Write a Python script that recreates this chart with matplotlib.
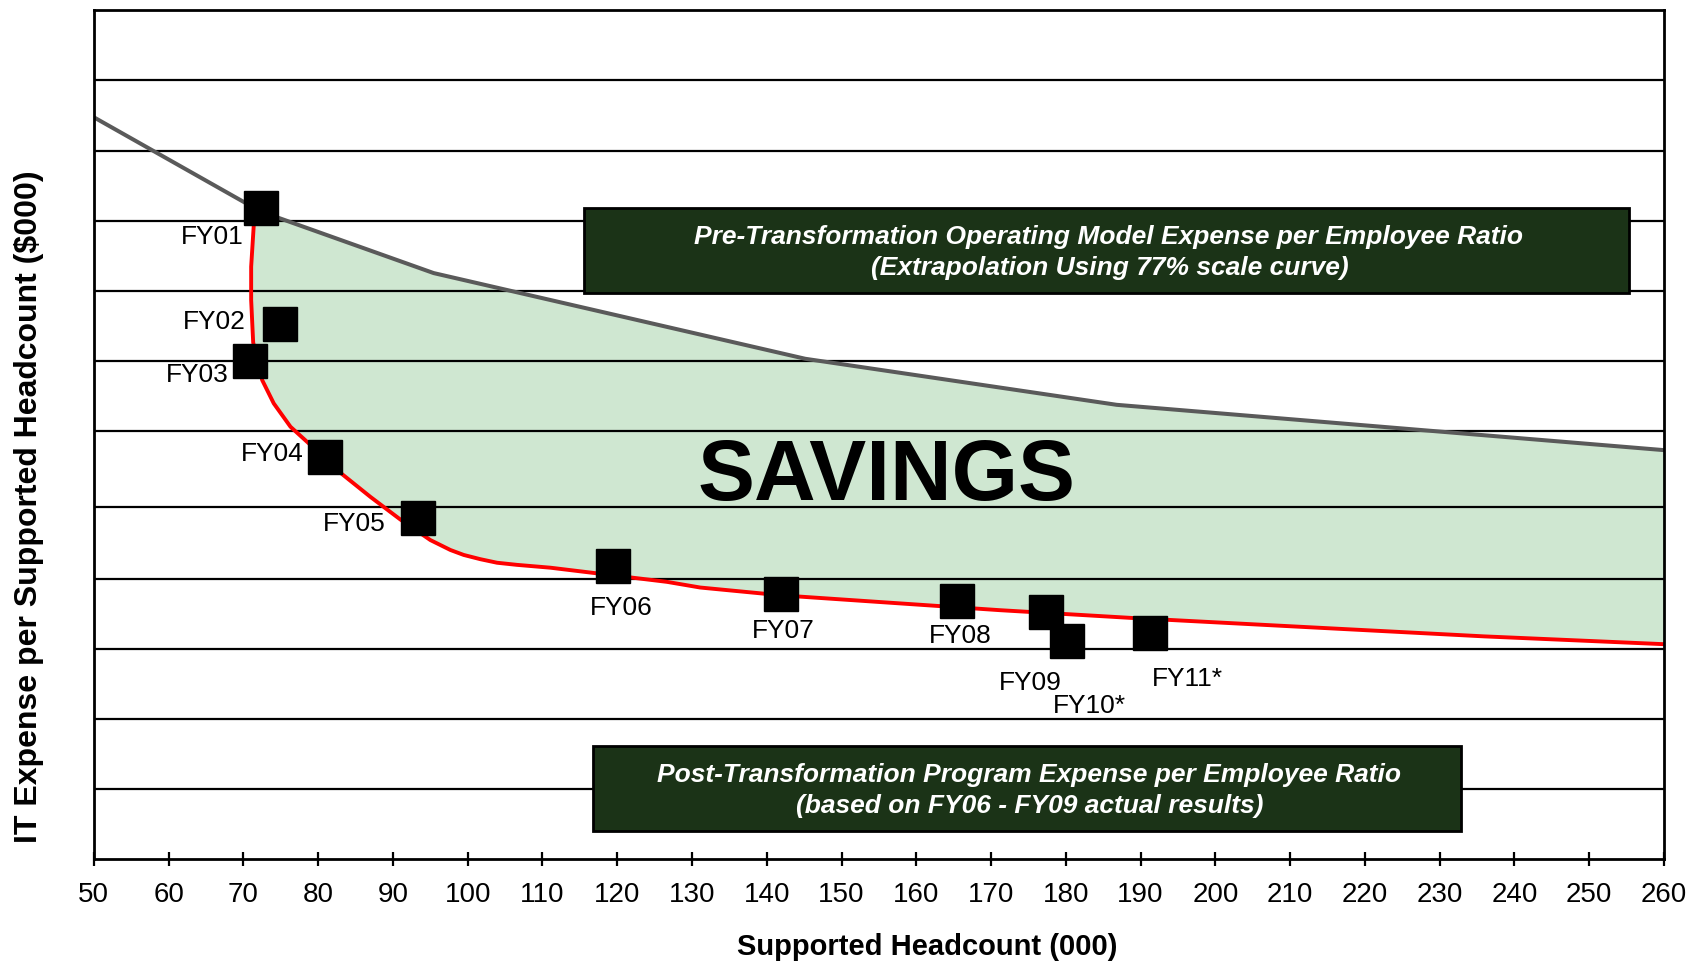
import numpy as np
import matplotlib
matplotlib.use("Agg")
import matplotlib.pyplot as plt
from matplotlib.patches import Rectangle

plt.rcParams['font.family'] = ['Liberation Sans', 'DejaVu Sans']

# -----------------------------
# DATA (x = headcount in 000, y = grid units, no scale shown)
# -----------------------------
years = ["FY01", "FY02", "FY03", "FY04", "FY05", "FY06",
         "FY07", "FY08", "FY09", "FY10*", "FY11*"]
head_x = [72.3, 74.85, 70.95, 80.9, 93.4, 119.4, 141.9, 165.5, 177.3, 180.2, 191.2]
cost_y = [9.20, 7.56, 7.04, 5.68, 4.82, 4.14, 3.75, 3.65, 3.49, 3.09, 3.20]

# label offsets (points) relative to each marker
label_dx = [-35, -47, -38, -38, -46, 6, 2, 2, -11, 16, 27]
label_dy = [-21, 1.5, -10, 2, -4, -30, -27, -25, -51, -47, -33]

# pre-transformation scale curve (grey)
pre_x = [50, 72.3, 95.45, 145.15, 186.8, 260]
pre_y = [10.48, 9.15, 8.28, 7.07, 6.42, 5.78]

# post-transformation curve (red)
post_x = [72.2, 71.39, 71.04, 71.04, 71.31, 72.51, 74.06, 76.3, 78.7, 82.98,
          86.99, 91.0, 95.01, 97.69, 99.47, 101.7, 103.93, 106.6, 111.06,
          117.3, 126.66, 131.1, 141.9, 171.2, 188.9, 212.4, 236.0, 260]
post_y = [9.15, 8.96, 8.37, 7.90, 7.30, 6.77, 6.44, 6.11, 5.88, 5.46,
          5.12, 4.80, 4.51, 4.37, 4.30, 4.24, 4.19, 4.16, 4.12,
          4.04, 3.92, 3.84, 3.73, 3.52, 3.41, 3.28, 3.15, 3.04]

x_ticks = list(range(50, 261, 10))
# horizontal rules (slightly uneven in the original)
grid_y = [0.99, 1.98, 2.97, 3.96, 4.97, 6.05, 7.04, 8.03, 9.02, 10.0, 11.0]

BOX_COLOR = "#1b3317"
FILL_COLOR = "#cfe7d1"

# -----------------------------
# FIGURE
# -----------------------------
fig = plt.figure(figsize=(16.91, 9.63), dpi=100)
ax = fig.add_axes([0.0555, 0.1075, 0.9285, 0.8825])
ax.set_xlim(50, 260)
ax.set_ylim(0, 12)

# savings area between the two curves
gx = np.array(pre_x)
gy = np.array(pre_y)
keep = gx > 72.3
poly_x = list(post_x) + list(gx[keep][::-1])
poly_y = list(post_y) + list(gy[keep][::-1])
ax.fill(poly_x, poly_y, color=FILL_COLOR, zorder=1, lw=0)

# horizontal grid lines
ax.set_yticks(grid_y)
ax.yaxis.grid(True, color="black", linewidth=1.6, zorder=2)
ax.set_axisbelow(False)
ax.tick_params(axis="y", left=False, labelleft=False)

ax.plot(pre_x, pre_y, color="#5a5a5a", linewidth=2.9, zorder=4, solid_joinstyle="round")
ax.plot(post_x, post_y, color="red", linewidth=2.8, zorder=4, solid_joinstyle="round")

ax.plot(head_x, cost_y, linestyle="none", marker="s", markersize=24,
        color="black", zorder=6)

for name, x, y, dx, dy in zip(years, head_x, cost_y, label_dx, label_dy):
    ax.annotate(name, (x, y), xytext=(dx, dy), textcoords="offset points",
                ha="center", va="center", fontsize=19, zorder=7)

ax.text(0.505, 0.449, "SAVINGS", transform=ax.transAxes, ha="center", va="center",
        fontsize=61.5, fontweight="bold", zorder=7)

# annotation boxes
box_font = dict(fontweight="bold", style="italic", color="white", fontsize=19)

ax.add_patch(Rectangle((0.312, 0.666), 0.666, 0.100, transform=ax.transAxes,
                       facecolor=BOX_COLOR, edgecolor="black", lw=2, zorder=8))
ax.text(0.646, 0.7325, "Pre-Transformation Operating Model Expense per Employee Ratio",
        transform=ax.transAxes, ha="center", va="center", zorder=9, **box_font)
ax.text(0.647, 0.6955, "(Extrapolation Using 77% scale curve)",
        transform=ax.transAxes, ha="center", va="center", zorder=9, **box_font)

ax.add_patch(Rectangle((0.318, 0.033), 0.553, 0.100, transform=ax.transAxes,
                       facecolor=BOX_COLOR, edgecolor="black", lw=2, zorder=8))
ax.text(0.5955, 0.0995, "Post-Transformation Program Expense per Employee Ratio",
        transform=ax.transAxes, ha="center", va="center", zorder=9, **box_font)
ax.text(0.596, 0.0625, "(based on FY06 - FY09 actual results)",
        transform=ax.transAxes, ha="center", va="center", zorder=9, **box_font)

# axes styling
ax.set_xticks(x_ticks)
ax.tick_params(axis="x", direction="inout", length=10, width=1.6,
               labelsize=20, pad=11.5)
for sp in ax.spines.values():
    sp.set_linewidth(2)
    sp.set_color("black")
    sp.set_zorder(10)

ax.set_xlabel("Supported Headcount (000)", fontsize=21, fontweight="bold")
ax.xaxis.set_label_coords(0.531, -0.103)
ax.xaxis.label.set_va("center")
ax.set_ylabel("IT Expense per Supported Headcount ($000)", fontsize=23, fontweight="bold")
ax.yaxis.set_label_coords(-0.041, 0.415)
ax.yaxis.label.set_va("center")

fig.savefig("out.png", dpi=100)
